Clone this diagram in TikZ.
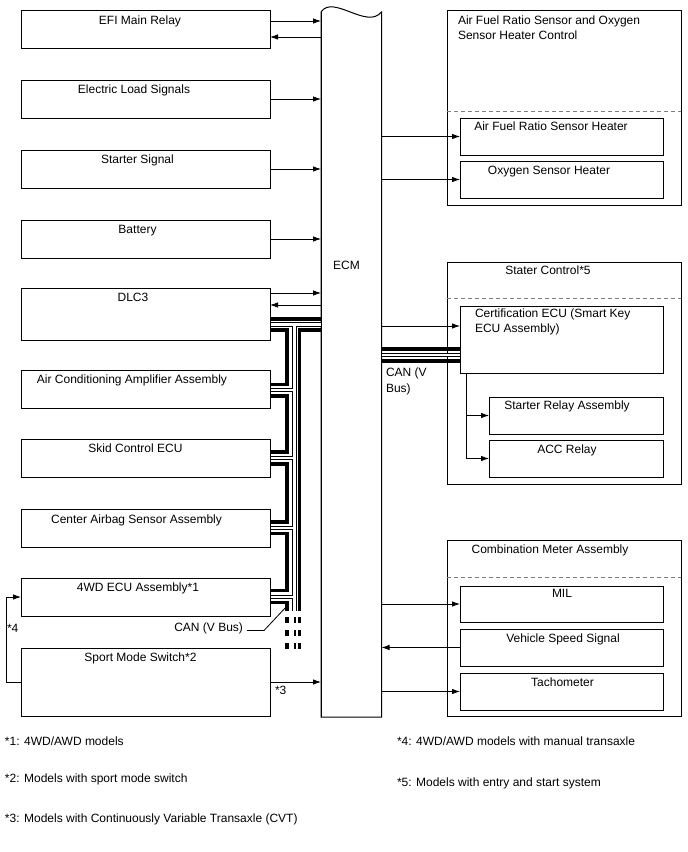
\documentclass[tikz,border=0pt]{standalone}
\usepackage{fontspec}
\setmainfont{Liberation Sans}
\usetikzlibrary{arrows.meta}
\begin{document}
\begin{tikzpicture}[x=1pt,y=-1pt,
  every node/.style={font=\fontsize{12}{14}\selectfont, inner sep=0pt, outer sep=0pt},
  bx/.style 2 args={draw, line width=0.9pt, anchor=north west, inner sep=0pt, minimum width=#1, minimum height=#2},
  txt/.style={anchor=base},
  ltxt/.style={anchor=base west},
  arr/.style={line width=0.8pt, -{Latex[length=8pt,width=5.5pt]}},
  wire/.style={line width=0.8pt},
  thk/.style={line width=3.2pt},
  hout/.style={line width=4.6pt},
  hin/.style={white, line width=2.6pt},
  sep/.style={gray, dash pattern=on 4pt off 3pt, line width=0.8pt}]

\fill[white] (0,0) rectangle (688,852);
\useasboundingbox (0,0) rectangle (688,852);

% ---------------- left boxes ----------------
\node[bx={249pt}{38pt}] (efi)  at (21,10)  {};
\node[bx={249pt}{38pt}] (els)  at (21,80)  {};
\node[bx={249pt}{38pt}] (sts)  at (21,150) {};
\node[bx={249pt}{38pt}] (bat)  at (21,220) {};
\node[bx={249pt}{52pt}] (dlc)  at (21,288) {};
\node[bx={249pt}{38pt}] (aca)  at (21,370) {};
\node[bx={249pt}{38pt}] (skid) at (21,439) {};
\node[bx={249pt}{38pt}] (cab)  at (21,509) {};
\node[bx={249pt}{38pt}] (fwd)  at (21,578) {};
\node[bx={249pt}{68pt}] (spm)  at (21,648) {};

\node[txt] (efit)  at (140,24)   {EFI Main Relay};
\node[txt] (elst)  at (134,93)   {Electric Load Signals};
\node[txt] (stst)  at (137.5,163) {Starter Signal};
\node[txt] (batt)  at (137.5,233) {Battery};
\node[txt] (dlct)  at (133,301)  {DLC3};
\node[txt] (acat)  at (132,383)  {Air Conditioning Amplifier Assembly};
\node[txt] (skidt) at (135.5,452.5) {Skid Control ECU};
\node[txt] (cabt)  at (136.5,523) {Center Airbag Sensor Assembly};
\node[txt] (fwdt)  at (138,591.5) {4WD ECU Assembly*1};
\node[txt] (spmt)  at (140.5,661.5) {Sport Mode Switch*2};

% ---------------- ECM ----------------
\node[minimum width=60.5pt, minimum height=705pt] (ecm) at (351.25,364.5) {};
\draw[line width=1pt] (ecm.south west) -- (321,12) .. controls (333,-6) and (367,30) .. (381.5,12) -- (ecm.south east) -- cycle;
\node[txt] (ecmt) at (346.5,269.5) {ECM};

% ---------------- right groups ----------------
\node[bx={234pt}{195pt}] (afr) at (447,10) {};
\draw[sep] (afr.west |- 0,111) -- (afr.east |- 0,111);
\node[ltxt] (afrt1) at (458,24.5) {Air Fuel Ratio Sensor and Oxygen};
\node[ltxt] (afrt2) at (458,39.5) {Sensor Heater Control};
\node[bx={203pt}{37pt}] (afh) at (460,118) {};
\node[bx={203pt}{37pt}] (osh) at (460,161) {};
\node[txt] (afht) at (551,130.5) {Air Fuel Ratio Sensor Heater};
\node[txt] (osht) at (549,174.5) {Oxygen Sensor Heater};

\node[bx={234pt}{222pt}] (stc) at (447,262) {};
\draw[sep] (stc.west |- 0,298) -- (stc.east |- 0,298);
\node[txt] (stct) at (548,274.5) {Stater Control*5};
\node[bx={203pt}{67pt}] (cert) at (460,306) {};
\node[ltxt] (certt1) at (475,317.5) {Certification ECU (Smart Key};
\node[ltxt] (certt2) at (475,332.5) {ECU Assembly)};
\node[bx={174pt}{37pt}] (srl) at (489,397) {};
\node[bx={174pt}{37pt}] (acc) at (489,440) {};
\node[txt] (srlt) at (567,409.5) {Starter Relay Assembly};
\node[txt] (acct) at (567,453.5) {ACC Relay};

\node[bx={234pt}{176pt}] (cma) at (447,540) {};
\draw[sep] (cma.west |- 0,577) -- (cma.east |- 0,577);
\node[txt] (cmat) at (550,553.5) {Combination Meter Assembly};
\node[bx={203pt}{36pt}] (mil) at (460,586) {};
\node[bx={203pt}{37pt}] (vss) at (460,629) {};
\node[bx={203pt}{37pt}] (tach) at (460,673) {};
\node[txt] (milt) at (562,597.5) {MIL};
\node[txt] (vsst) at (563,642.5) {Vehicle Speed Signal};
\node[txt] (tacht) at (562.5,686.5) {Tachometer};

% ---------------- left arrows ----------------
\coordinate (efiA) at ([yshift=8pt]efi.east);
\coordinate (efiB) at ([yshift=-8pt]efi.east);
\draw[arr] (efiA) -- (efiA -| ecm.west);
\draw[arr] (efiB -| ecm.west) -- (efiB);
\draw[arr] (els.east) -- (els.east -| ecm.west);
\draw[arr] (sts.east) -- (sts.east -| ecm.west);
\draw[arr] (bat.east) -- (bat.east -| ecm.west);
\coordinate (dlcA) at ([yshift=21pt]dlc.east);
\coordinate (dlcR) at ([yshift=9pt]dlc.east);
\draw[arr] (dlcA) -- (dlcA -| ecm.west);
\draw[arr] (dlcR -| ecm.west) -- (dlcR);
\draw[arr] (spm.east) -- (spm.east -| ecm.west);
\node[ltxt] (s3) at (275,694.5) {*3};
\draw[arr] (spm.west) -- ++(-15,0) |- (fwd.west);
\node[ltxt] (s4) at (7,632.5) {*4};

% ---------------- right arrows ----------------
\draw[arr] (afh.west -| ecm.east) -- (afh.west);
\draw[arr] (osh.west -| ecm.east) -- (osh.west);
\coordinate (certA) at ([yshift=13.5pt]cert.west);
\draw[arr] (certA -| ecm.east) -- (certA);
\draw[arr] (mil.west -| ecm.east) -- (mil.west);
\draw[arr] (vss.west) -- (vss.west -| ecm.east);
\draw[arr] (tach.west -| ecm.east) -- (tach.west);
\coordinate (cv) at ([xshift=6pt]cert.south west);
\draw[arr] (cv) |- (acc.west);
\draw[arr] (cv |- srl.west) -- (srl.west);

% ---------------- CAN right ----------------
\coordinate (cr1) at ([yshift=-9.5pt]cert.west);
\coordinate (cr2) at ([yshift=-15.5pt]cert.west);
\coordinate (cr3) at ([yshift=-21.5pt]cert.west);
\draw[thk] (cr1 -| ecm.east) -- (cr1);
\draw[thk] (cr3 -| ecm.east) -- (cr3);
\draw[hout] (cr2 -| ecm.east) -- (cr2);
\draw[hin, shorten >=0.5pt, shorten <=0.5pt] (cr2 -| ecm.east) -- (cr2);
\node[ltxt] (canr1) at (386,376) {CAN (V};
\node[ltxt] (canr2) at (386,392) {Bus)};

% ---------------- CAN left ----------------
\coordinate (colA) at (287,0);
\coordinate (colH) at (294.5,0);
\coordinate (colB) at (299.5,0);
\coordinate (busEnd) at (0,611);
\coordinate (dashTop) at (0,617);
\coordinate (dashBot) at (0,650);

\coordinate (dlcT) at ([yshift=-31pt]dlc.north east);
\coordinate (dlcH) at ([yshift=-36.5pt]dlc.north east);
\coordinate (dlcB) at ([yshift=-42pt]dlc.north east);
\coordinate (acaT) at ([yshift=-14.5pt]aca.north east);
\coordinate (acaH) at ([yshift=-20pt]aca.north east);
\coordinate (acaB) at ([yshift=-26pt]aca.north east);
\coordinate (skT) at ([yshift=-13pt]skid.north east);
\coordinate (skH) at ([yshift=-19pt]skid.north east);
\coordinate (skB) at ([yshift=-25pt]skid.north east);
\coordinate (cabT) at ([yshift=-13pt]cab.north east);
\coordinate (cabH) at ([yshift=-19pt]cab.north east);
\coordinate (cabB) at ([yshift=-24.5pt]cab.north east);
\coordinate (fwdT) at ([yshift=-12.5pt]fwd.north east);
\coordinate (fwdH) at ([yshift=-19pt]fwd.north east);
\coordinate (fwdB) at ([yshift=-24.5pt]fwd.north east);

\draw[thk] (dlcT) -- (dlcT -| ecm.west);
\draw[thk] (dlcB) -- (dlcB -| colA) -- (acaT -| colA) -- (acaT);
\draw[thk] (dlcB -| ecm.west) -- (dlcB -| colB) -- (busEnd -| colB);
\draw[thk] (acaB) -- (acaB -| colA) -- (skT -| colA) -- (skT);
\draw[thk] (skB) -- (skB -| colA) -- (cabT -| colA) -- (cabT);
\draw[thk] (cabB) -- (cabB -| colA) -- (fwdT -| colA) -- (fwdT);
\draw[thk] (fwdB) -- (fwdB -| colA) -- (busEnd -| colA);

\foreach \st in {hout,hin}{
  \draw[\st] (dlcH) -- (dlcH -| ecm.west);
  \draw[\st] (dlcH -| colH) -- (busEnd -| colH);
  \draw[\st] (acaH) -- (acaH -| colH);
  \draw[\st] (skH) -- (skH -| colH);
  \draw[\st] (cabH) -- (cabH -| colH);
  \draw[\st] (fwdH) -- (fwdH -| colH);
}
% box borders redrawn over the wire ends
\foreach \b in {dlc,aca,skid,cab,fwd}{
  \draw[line width=0.9pt] (\b.north east) -- (\b.south east);
}
\draw[line width=1pt] (ecm.south west) -- (321,12);

\draw[line width=3.2pt, dash pattern=on 6pt off 7pt] (dashTop -| colA) -- (dashBot -| colA);
\draw[line width=2pt, dash pattern=on 6pt off 7pt] (dashTop -| colH) -- (dashBot -| colH);
\draw[line width=3.2pt, dash pattern=on 6pt off 7pt] (dashTop -| colB) -- (dashBot -| colB);

\node[anchor=base east] (canl) at (243,631) {CAN (V Bus)};
\coordinate (ldr) at ([yshift=-3.5pt]fwdB -| colA);
\draw[wire] ([xshift=4pt,yshift=0.5pt]canl.base east) -- ++(17,0) -- (ldr);

% ---------------- footnotes ----------------
\node[ltxt] (n1) at (5,745.5) {*1: 4WD/AWD models};
\node[ltxt] (n2) at (5,782.5) {*2: Models with sport mode switch};
\node[ltxt] (n3) at (5,822.5) {*3: Models with Continuously Variable Transaxle (CVT)};
\node[ltxt] (n4) at (397,745.5) {*4: 4WD/AWD models with manual transaxle};
\node[ltxt] (n5) at (397,786.5) {*5: Models with entry and start system};
\end{tikzpicture}
\end{document}
